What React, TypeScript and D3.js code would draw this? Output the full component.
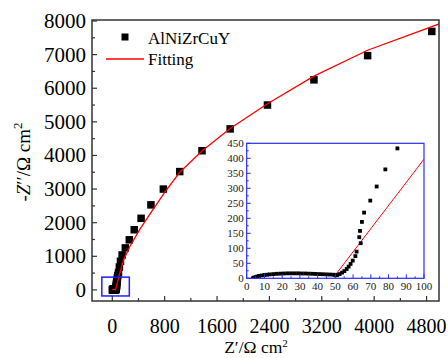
import { useEffect, useRef } from "react";
import * as d3 from "d3";

// measured points, low-frequency part (also shown in the inset)
const insetX = [
  3.5, 4, 5, 6, 7, 8.5, 10, 11.5, 13, 15, 17, 19, 21, 23, 25, 27, 29, 31, 33, 35, 37, 39, 41, 43, 45, 47, 49,
  50, 51.1, 52.4, 53.8, 55.1, 56.4, 57.5, 58.6, 59.8, 61.3, 62, 64.3, 63.5, 63.9, 65, 66.2, 69.7, 73.3, 78.2, 85,
];
const insetY = [
  0, 2, 4, 6, 8, 9.5, 11, 12, 13, 14, 15, 15.5, 16, 16.5, 16.5, 16.5, 16.5, 16, 16, 15.5, 15, 14.5, 14, 13.5, 13, 12.5, 12,
  10, 11, 14, 19, 24, 31, 39, 48, 59, 74, 89, 117, 137, 158, 188, 219, 259, 306, 363, 433,
];

// remaining points of the main plot
const mainX = [95, 108, 125, 150, 199, 260, 335, 440, 590, 780, 1030, 1370, 1800, 2370, 3080, 3900, 4880];
const mainY = [520, 680, 850, 1040, 1250, 1490, 1790, 2130, 2530, 3000, 3520, 4140, 4790, 5500, 6250, 6970, 7690];

// fitted curve
const fitX = [3.7, 6, 8, 12, 16, 20, 25, 30, 35, 40, 45, 50, 100, 170, 270, 420, 600, 800, 1030, 1370, 1800, 2370, 3080, 3900, 5000];
const fitY = [0, 5, 8, 12, 14.5, 16, 16.5, 16, 15, 14, 12.5, 11, 397, 880, 1300, 1800, 2330, 2900, 3500, 4130, 4800, 5540, 6360, 7130, 7920];

const xTicks = [0, 800, 1600, 2400, 3200, 4000, 4800];
const yTicks = [0, 1000, 2000, 3000, 4000, 5000, 6000, 7000, 8000];
const insetXTicks = [0, 10, 20, 30, 40, 50, 60, 70, 80, 90, 100];
const insetYTicks = [0, 50, 100, 150, 200, 250, 300, 350, 400, 450];

const FONT = "Liberation Serif, DejaVu Serif, serif";

export default function App() {
  const svgRef = useRef<SVGSVGElement>(null);

  useEffect(() => {
    if (!svgRef.current) return;
    const svg = d3.select(svgRef.current);
    svg.selectAll("*").remove();
    svg.style("font-family", FONT);

    const left = 92, right = 439, top = 20, bottom = 301;
    const x = d3.scaleLinear().domain([-310, 4990]).range([left, right]);
    const y = d3.scaleLinear().domain([-330, 8030]).range([bottom, top]);

    const all = insetX.map((v, i) => [v, insetY[i]] as [number, number])
      .concat(mainX.map((v, i) => [v, mainY[i]] as [number, number]));
    const fit = fitX.map((v, i) => [v, fitY[i]] as [number, number]);

    svg.append("clipPath").attr("id", "mainClip")
      .append("rect").attr("x", left).attr("y", top)
      .attr("width", right - left).attr("height", bottom - top);

    const plot = svg.append("g").attr("clip-path", "url(#mainClip)");

    plot.append("g").selectAll("rect").data(all).join("rect")
      .attr("x", (d) => x(d[0]) - 3.75)
      .attr("y", (d) => y(d[1]) - 3.75)
      .attr("width", 7.5).attr("height", 7.5)
      .attr("fill", "#000");

    const line = d3.line<[number, number]>().x((d) => x(d[0])).y((d) => y(d[1]));
    plot.append("path").attr("d", line(fit)!)
      .attr("fill", "none").attr("stroke", "#ff0000").attr("stroke-width", 1.3);

    // zoom box
    svg.append("rect")
      .attr("x", x(-160)).attr("y", y(380))
      .attr("width", x(260) - x(-160)).attr("height", y(-180) - y(380))
      .attr("fill", "none").attr("stroke", "#1f1fff").attr("stroke-width", 1.5);

    // frame
    svg.append("rect")
      .attr("x", left).attr("y", top).attr("width", right - left).attr("height", bottom - top)
      .attr("fill", "none").attr("stroke", "#333").attr("stroke-width", 1.5);

    // ticks (inward)
    const tk = svg.append("g").attr("stroke", "#333").attr("stroke-width", 1.2);
    d3.range(0, 8001, 500).forEach((v) => {
      const len = v % 1000 === 0 ? 5 : 3;
      tk.append("line").attr("x1", left).attr("x2", left + len).attr("y1", y(v)).attr("y2", y(v));
    });
    d3.range(0, 4801, 400).forEach((v) => {
      const len = v % 800 === 0 ? 5 : 3;
      tk.append("line").attr("x1", x(v)).attr("x2", x(v)).attr("y1", bottom).attr("y2", bottom - len);
    });

    svg.append("g").selectAll("text").data(yTicks).join("text")
      .attr("x", 86).attr("y", (d) => y(d) + 7)
      .attr("text-anchor", "end").attr("font-size", 21)
      .text((d) => d);
    svg.append("g").selectAll("text").data(xTicks).join("text")
      .attr("x", (d) => x(d)).attr("y", 333)
      .attr("text-anchor", "middle").attr("font-size", 20)
      .text((d) => d);

    // axis titles
    const xl = svg.append("text").attr("x", 256).attr("y", 353)
      .attr("text-anchor", "middle").attr("font-size", 17.5);
    xl.append("tspan").text("Z′/Ω cm");
    xl.append("tspan").attr("dy", -6).attr("font-size", 11).text("2");

    const yl = svg.append("text").attr("transform", "translate(30,162) rotate(-90)")
      .attr("text-anchor", "middle").attr("font-size", 19);
    yl.append("tspan").text("-");
    yl.append("tspan").attr("font-style", "italic").text("Z");
    yl.append("tspan").text("′′/Ω cm");
    yl.append("tspan").attr("dy", -8).attr("font-size", 13).text("2");

    // legend
    svg.append("rect").attr("x", 121.5).attr("y", 33.5).attr("width", 7).attr("height", 7).attr("fill", "#000");
    svg.append("text").attr("x", 148).attr("y", 44).attr("font-size", 17).text("AlNiZrCuY");
    svg.append("line").attr("x1", 106).attr("x2", 144).attr("y1", 59).attr("y2", 59)
      .attr("stroke", "#ff0000").attr("stroke-width", 1.5);
    svg.append("text").attr("x", 148).attr("y", 65).attr("font-size", 17).text("Fitting");

    // inset
    const il = 246.7, ir = 424, it = 143.3, ib = 278.3;
    const ix = d3.scaleLinear().domain([0, 100]).range([il, ir]);
    const iy = d3.scaleLinear().domain([0, 450]).range([ib, it]);
    svg.append("rect").attr("x", il).attr("y", it).attr("width", ir - il).attr("height", ib - it).attr("fill", "#fff");
    svg.append("clipPath").attr("id", "insetClip")
      .append("rect").attr("x", il).attr("y", it).attr("width", ir - il).attr("height", ib - it);
    const ins = svg.append("g").attr("clip-path", "url(#insetClip)");
    const iline = d3.line<[number, number]>().x((d) => ix(d[0])).y((d) => iy(d[1]));
    ins.append("path").attr("d", iline(fit)!)
      .attr("fill", "none").attr("stroke", "#ff0000").attr("stroke-width", 1);
    ins.append("g").selectAll("rect").data(all.filter((d) => d[0] <= 100 && d[1] <= 450)).join("rect")
      .attr("x", (d) => ix(d[0]) - 1.9).attr("y", (d) => iy(d[1]) - 1.9)
      .attr("width", 3.8).attr("height", 3.8).attr("fill", "#000");

    svg.append("rect").attr("x", il).attr("y", it).attr("width", ir - il).attr("height", ib - it)
      .attr("fill", "none").attr("stroke", "#2a2aff").attr("stroke-width", 1.2);
    const itk = svg.append("g").attr("stroke", "#2a2aff").attr("stroke-width", 1);
    d3.range(0, 451, 25).forEach((v) => {
      const len = v % 50 === 0 ? 4 : 2;
      itk.append("line").attr("x1", il).attr("x2", il + len).attr("y1", iy(v)).attr("y2", iy(v));
    });
    d3.range(0, 101, 5).forEach((v) => {
      const len = v % 10 === 0 ? 4 : 2;
      itk.append("line").attr("x1", ix(v)).attr("x2", ix(v)).attr("y1", ib).attr("y2", ib - len);
    });
    svg.append("g").selectAll("text").data(insetYTicks).join("text")
      .attr("x", il - 3).attr("y", (d) => iy(d) + 3.8)
      .attr("text-anchor", "end").attr("font-size", 11).attr("fill", "#222")
      .text((d) => d);
    svg.append("g").selectAll("text").data(insetXTicks).join("text")
      .attr("x", (d) => ix(d)).attr("y", 289.5)
      .attr("text-anchor", "middle").attr("font-size", 11).attr("fill", "#222")
      .text((d) => d);
  }, []);

  return (
    <svg
      ref={svgRef}
      width={448}
      height={358}
      style={{ position: "absolute", left: 0, top: 0, background: "#fff" }}
    />
  );
}
